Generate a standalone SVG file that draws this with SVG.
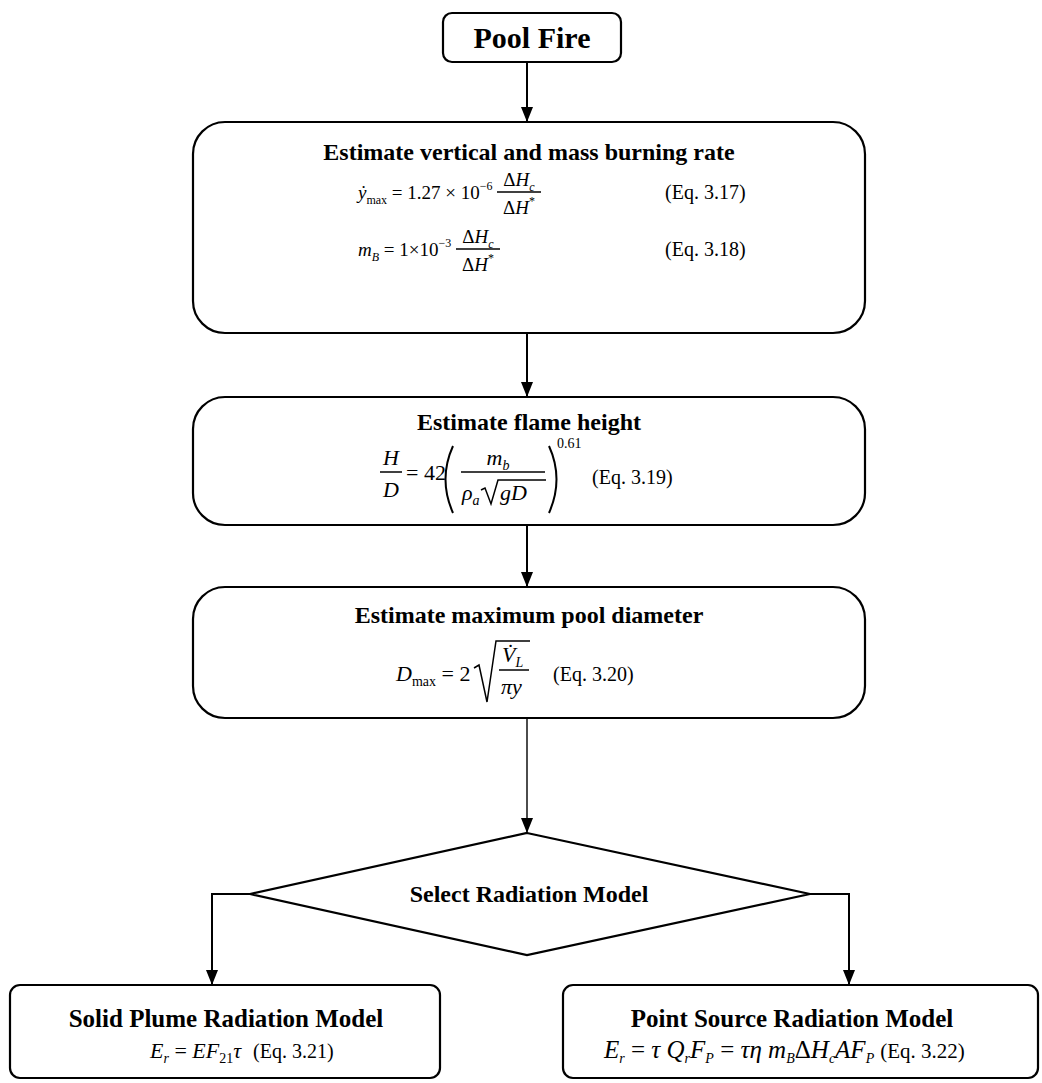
<svg xmlns="http://www.w3.org/2000/svg" width="1042" height="1083" viewBox="0 0 1042 1083">
<defs>
<marker id="ah" markerWidth="15" markerHeight="12" refX="15" refY="6" orient="auto" markerUnits="userSpaceOnUse" viewBox="0 0 15 12">
<path d="M0,0 L15,6 L0,12 Z" fill="#000"/>
</marker>
</defs>
<style>
.box{fill:#fff;stroke:#000;stroke-width:2.2}
.title{font-family:"Liberation Serif","Times New Roman",serif;font-weight:bold;font-size:24px;fill:#000}
.eq{font-family:"Liberation Serif","Times New Roman",serif;font-style:italic;font-size:22px;fill:#000}
.e19{font-size:19px}
.up{font-style:normal}
.ref{font-family:"Liberation Serif","Times New Roman",serif;font-size:20px;fill:#000}
.sm{font-size:14px}
.s12{font-size:12px}
.con{fill:none;stroke:#000;stroke-width:2}
.fl{fill:none;stroke:#000;stroke-width:1.5}
</style>
<rect width="1042" height="1083" fill="#fff"/>

<g id="connectors">
<line class="con" x1="527" y1="62" x2="527" y2="122" marker-end="url(#ah)"/>
<line class="con" x1="527" y1="333" x2="527" y2="397" marker-end="url(#ah)"/>
<line class="con" x1="527" y1="525" x2="527" y2="587" marker-end="url(#ah)"/>
<line class="con" x1="527" y1="718" x2="527" y2="833" marker-end="url(#ah)" style="stroke-width:1.4"/>
<polyline class="con" points="250,894 212,894 212,985" marker-end="url(#ah)"/>
<polyline class="con" points="810,894 849,894 849,985" marker-end="url(#ah)"/>
</g>

<g id="pool-fire">
<rect class="box" x="443" y="13" width="178" height="49" rx="9"/>
<text class="title" x="532" y="48" text-anchor="middle" style="font-size:30px">Pool Fire</text>
</g>

<g id="burning-rate">
<rect class="box" x="193" y="122" width="672" height="211" rx="32"/>
<text class="title" x="529" y="160" text-anchor="middle">Estimate vertical and mass burning rate</text>
<text class="eq e19" x="358" y="199">ẏ<tspan class="up s12" dy="5">max</tspan><tspan class="up" dy="-5"> = 1.27 × 10</tspan><tspan class="up s12" dy="-9">−6</tspan></text>
<text class="eq e19" x="519" y="186" text-anchor="middle"><tspan class="up">Δ</tspan>H<tspan class="s12" dy="5">c</tspan></text>
<line class="fl" x1="497" y1="192" x2="541" y2="192"/>
<text class="eq e19" x="519" y="214" text-anchor="middle"><tspan class="up">Δ</tspan>H<tspan class="up s12" dy="-9">*</tspan></text>
<text class="ref" x="665" y="199">(Eq. 3.17)</text>
<text class="eq e19" x="358" y="256">m<tspan class="s12" dy="5">B</tspan><tspan class="up" dy="-5"> = 1×10</tspan><tspan class="up s12" dy="-9">−3</tspan></text>
<text class="eq e19" x="478" y="243" text-anchor="middle"><tspan class="up">Δ</tspan>H<tspan class="s12" dy="5">c</tspan></text>
<line class="fl" x1="456" y1="249" x2="500" y2="249"/>
<text class="eq e19" x="478" y="271" text-anchor="middle"><tspan class="up">Δ</tspan>H<tspan class="up s12" dy="-9">*</tspan></text>
<text class="ref" x="665" y="256">(Eq. 3.18)</text>
</g>

<g id="flame-height">
<rect class="box" x="193" y="397" width="672" height="128" rx="32"/>
<text class="title" x="529" y="430" text-anchor="middle">Estimate flame height</text>
<text class="eq" x="391" y="465" text-anchor="middle">H</text>
<line class="fl" x1="380" y1="472" x2="402" y2="472"/>
<text class="eq" x="391" y="497" text-anchor="middle">D</text>
<text class="eq up" x="406" y="480">= 42</text>
<path class="con" d="M453,446 Q438,479 453,513"/>
<path class="con" d="M549,446 Q564,479 549,513"/>
<text class="eq" x="498" y="465" text-anchor="middle">m<tspan class="sm" dy="5">b</tspan></text>
<line class="fl" x1="461" y1="472" x2="545" y2="472"/>
<text class="eq" x="462" y="500">ρ<tspan class="sm" dy="5">a</tspan></text>
<path class="fl" d="M481,490 L485,488 L491,504 L498,480 L546,480"/>
<text class="eq" x="500" y="500">gD</text>
<text class="ref sm" x="557" y="448">0.61</text>
<text class="ref" x="592" y="484">(Eq. 3.19)</text>
</g>

<g id="pool-diameter">
<rect class="box" x="193" y="587" width="672" height="131" rx="32"/>
<text class="title" x="529" y="623" text-anchor="middle">Estimate maximum pool diameter</text>
<text class="eq" x="396" y="681">D<tspan class="up sm" dy="5">max</tspan><tspan class="up" dy="-5"> = 2</tspan></text>
<path class="fl" d="M474,668 L479,665 L487,702 L496,641 L530,641"/>
<text class="eq" x="502" y="662">V̇<tspan class="sm" dy="5">L</tspan></text>
<line class="fl" x1="499" y1="670" x2="529" y2="670"/>
<text class="eq" x="501" y="694">πy</text>
<text class="ref" x="553" y="681">(Eq. 3.20)</text>
</g>

<g id="select-model">
<polygon class="box" points="527,833 810,894 527,955 250,894"/>
<text class="title" x="529" y="902" text-anchor="middle">Select Radiation Model</text>
</g>

<g id="solid-plume">
<rect class="box" x="10" y="985" width="430" height="93" rx="10"/>
<text class="title" x="226" y="1027" text-anchor="middle" style="font-size:25px">Solid Plume Radiation Model</text>
<text class="eq" x="150" y="1058">E<tspan class="sm" dy="5">r</tspan><tspan class="up" dy="-5"> = </tspan>EF<tspan class="up sm" dy="5">21</tspan><tspan dy="-5">τ</tspan><tspan class="up" font-size="20px" dx="12">(Eq. 3.21)</tspan></text>
</g>

<g id="point-source">
<rect class="box" x="563" y="985" width="475" height="93" rx="10"/>
<text class="title" x="792" y="1027" text-anchor="middle" style="font-size:25px">Point Source Radiation Model</text>
<text class="eq" x="604" y="1058" style="font-size:25px">E<tspan class="sm" dy="5">r</tspan><tspan class="up" dy="-5"> = </tspan>τ Q<tspan class="sm" dy="5">r</tspan><tspan dy="-5">F</tspan><tspan class="sm" dy="5">P</tspan><tspan class="up" dy="-5"> = </tspan>τη m<tspan class="sm" dy="5">B</tspan><tspan class="up" dy="-5">Δ</tspan>H<tspan class="sm" dy="5">c</tspan><tspan dy="-5">AF</tspan><tspan class="sm" dy="5">P</tspan><tspan class="up" dy="-5" dx="6" font-size="21px">(Eq. 3.22)</tspan></text>
</g>
</svg>
